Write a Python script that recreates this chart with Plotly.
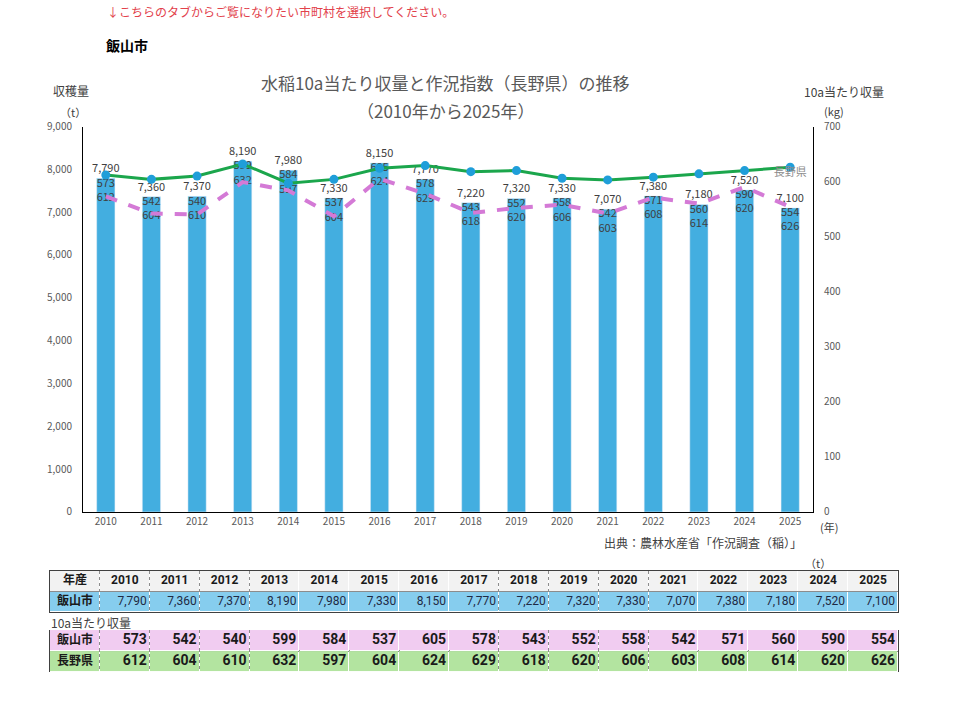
import plotly.graph_objects as go

years = [str(y) for y in range(2010, 2026)]
production_t = [7790, 7360, 7370, 8190, 7980, 7330, 8150, 7770, 7220, 7320, 7330, 7070, 7380, 7180, 7520, 7100]
iiyama_yield = [573, 542, 540, 599, 584, 537, 605, 578, 543, 552, 558, 542, 571, 560, 590, 554]
nagano_yield = [612, 604, 610, 632, 597, 604, 624, 629, 618, 620, 606, 603, 608, 614, 620, 626]
row_labels_top = ["年産", "飯山市"]
row_labels_bottom = ["飯山市", "長野県"]

W, H = 960, 701
FONT = "Noto Sans CJK JP, Noto Sans, sans-serif"
TF = "Liberation Sans Narrow, Roboto, Noto Sans CJK JP, sans-serif"
GRAY = "#595959"
DARK = "#404040"

# the page is photographed with a small top offset / vertical squeeze; compensate
Y_OFF, Y_SPAN = 7.6, 686.3


def px(x):
    return x / W


def py(y):
    return 1 - (y - Y_OFF) / Y_SPAN


fig = go.Figure()

# ---------------- chart ----------------
fig.add_trace(go.Bar(
    x=years, y=production_t, marker_color="#43AEE0",
    text=[f"{v:,}" for v in production_t], textposition="outside", constraintext="none",
    textfont=dict(size=11, color=DARK, family=FONT), cliponaxis=False,
    hoverinfo="skip"))

fig.add_trace(go.Scatter(
    x=years, y=iiyama_yield, yaxis="y2", mode="lines",
    line=dict(color="#D47AD6", width=4, dash="dash"), hoverinfo="skip"))

fig.add_trace(go.Scatter(
    x=years, y=nagano_yield, yaxis="y2", mode="lines+markers",
    line=dict(color="#1BA64C", width=3),
    marker=dict(color="#1F9ED9", size=9), hoverinfo="skip"))

# yield labels stacked just under each bar top
fig.add_trace(go.Scatter(
    x=years, y=production_t, mode="text", cliponaxis=False,
    text=[f"{a}<br>{b}" for a, b in zip(iiyama_yield, nagano_yield)],
    textposition="bottom center",
    textfont=dict(size=11, color=DARK, family=FONT), hoverinfo="skip"))

# series name label at the last 長野県 point
fig.add_trace(go.Scatter(
    x=[years[-1]], y=[nagano_yield[-1]], yaxis="y2", mode="text", cliponaxis=False,
    text=["長野県"], textposition="bottom center",
    textfont=dict(size=11, color="#8C8C8C", family=FONT), hoverinfo="skip"))

# ---------------- tables (heatmap cells + text) ----------------
ncol = len(years) + 1
cols = list(range(ncol))
scale = [[0, "#F2F2F2"], [1 / 3, "#86CDEE"], [2 / 3, "#F1CCF1"], [1, "#B3E4A0"]]

fig.add_trace(go.Heatmap(
    x=cols, y=[0, 1], z=[[0] * ncol, [1] * ncol], xaxis="x3", yaxis="y3",
    colorscale=scale, zmin=0, zmax=3, showscale=False, xgap=1, ygap=1, hoverinfo="skip"))
fig.add_trace(go.Heatmap(
    x=cols, y=[0, 1], z=[[2] * ncol, [3] * ncol], xaxis="x3", yaxis="y4",
    colorscale=scale, zmin=0, zmax=3, showscale=False, xgap=1, ygap=1, hoverinfo="skip"))

num_x = [c + 0.44 for c in cols[1:]]

fig.add_trace(go.Scatter(
    x=cols, y=[0] * ncol, xaxis="x3", yaxis="y3", mode="text",
    text=[f"<b>{s}</b>" for s in [row_labels_top[0]] + years], textposition="middle center",
    textfont=dict(size=12, color="#1A1A1A", family=TF), hoverinfo="skip"))
fig.add_trace(go.Scatter(
    x=[0], y=[1], xaxis="x3", yaxis="y3", mode="text",
    text=[f"<b>{row_labels_top[1]}</b>"], textposition="middle center",
    textfont=dict(size=12, color="#1A1A1A", family=FONT), hoverinfo="skip"))
fig.add_trace(go.Scatter(
    x=num_x, y=[1] * len(years), xaxis="x3", yaxis="y3", mode="text",
    text=[f"{v:,}" for v in production_t], textposition="middle left",
    textfont=dict(size=12, color="#1F2A44", family=TF), hoverinfo="skip"))
for r, (lab, vals) in enumerate(zip(row_labels_bottom, [iiyama_yield, nagano_yield])):
    fig.add_trace(go.Scatter(
        x=[0], y=[r], xaxis="x3", yaxis="y4", mode="text",
        text=[f"<b>{lab}</b>"], textposition="middle center",
        textfont=dict(size=12, color="#1A1A1A", family=FONT), hoverinfo="skip"))
    fig.add_trace(go.Scatter(
        x=num_x, y=[r] * len(vals), xaxis="x3", yaxis="y4", mode="text",
        text=[f"<b>{v}</b>" for v in vals], textposition="middle left",
        textfont=dict(size=14, color="#1A1A1A", family=TF), hoverinfo="skip"))

# ---------------- free texts ----------------
ann = []


def txt(x, y, s, size=12, color=DARK, anchor="left", bold=False):
    ann.append(dict(x=px(x), y=py(y), xref="paper", yref="paper", text=(f"<b>{s}</b>" if bold else s),
                    showarrow=False, xanchor=anchor, yanchor="middle",
                    font=dict(size=size, color=color, family=FONT)))


txt(105, 11, "↓こちらのタブからご覧になりたい市町村を選択してください。", 12, "#E2414B")
txt(104, 45, "飯山市", 14, "#000000", bold=True)
txt(445, 82, "水稲10a当たり収量と作況指数（長野県）の推移", 17, GRAY, "center")
txt(445, 110, "（2010年から2025年）", 17, GRAY, "center")
txt(51, 90, "収穫量", 12, DARK)
txt(58, 111, "（t）", 11, DARK)
txt(802, 91, "10a当たり収量", 12, DARK)
txt(822, 110, "(kg)", 11, DARK)
txt(818, 526, "(年)", 11, DARK)
txt(804, 542, "出典：農林水産省「作況調査（稲）」", 12, DARK, "right")
txt(803, 562, "（t）", 11, DARK)
txt(49, 621, "10a当たり収量", 12, DARK)

axis_common = dict(showgrid=False, zeroline=False, ticks="")
table_x = dict(domain=[px(50), px(898)], range=[-0.5, ncol - 0.5], showticklabels=False,
               showgrid=True, gridcolor="#8C8C8C", griddash="dot", gridwidth=1,
               tick0=0.5, dtick=1, zeroline=False, ticks="",
               showline=True, mirror=True, linecolor="#404040", linewidth=1, anchor="y3")


def table_y(top, bottom, anchor):
    return dict(domain=[py(bottom), py(top)], range=[1.5, -0.5], showticklabels=False,
                showgrid=True, gridcolor="#8C8C8C", gridwidth=1, tick0=0.5, dtick=1,
                zeroline=False, ticks="", showline=True, mirror=True,
                linecolor="#404040", linewidth=1, anchor=anchor)


fig.update_layout(
    width=W, height=H, margin=dict(l=0, r=0, t=0, b=0),
    paper_bgcolor="white", plot_bgcolor="white",
    showlegend=False, bargap=0.6, annotations=ann,
    font=dict(family=FONT, color=GRAY),
    xaxis=dict(domain=[px(83), px(813)], type="category", range=[-0.5, 15.5],
               showline=True, linecolor="#000000", linewidth=1,
               tickfont=dict(size=10, color=GRAY), anchor="y", **axis_common),
    yaxis=dict(domain=[py(511), py(126)], range=[0, 9000], dtick=1000, tickformat=",",
               showline=True, linecolor="#000000", linewidth=1,
               ticklabelstandoff=8, tickfont=dict(size=10, color=GRAY), anchor="x", **axis_common),
    yaxis2=dict(overlaying="y", side="right", range=[0, 700], dtick=100,
                showline=True, linecolor="#000000", linewidth=1,
                ticklabelstandoff=8, tickfont=dict(size=10, color=GRAY), anchor="x", **axis_common),
    xaxis3=table_x,
    yaxis3=table_y(570, 611, "x3"),
    yaxis4=table_y(629, 671, "x3"),
)

fig.write_html("out.html")
